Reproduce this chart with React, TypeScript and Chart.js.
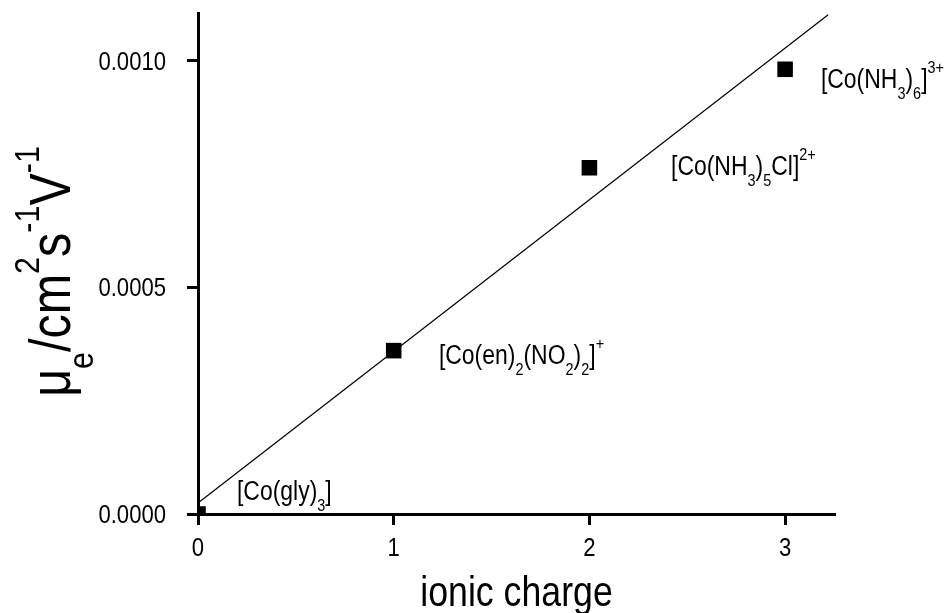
import React, { useEffect, useRef } from "react";
import { Chart, registerables } from "chart.js";

Chart.register(...registerables);

// ---- data ----
const charges = [0, 1, 2, 3];
const mobilities = [0.0, 0.00036, 0.000763, 0.00098];
const fitX = [0, 3.22];
const fitY = [0.0000242, 0.0011];
const xTickValues = [0, 1, 2, 3];
const yTickValues = [0, 0.0005, 0.001];
const yTickLabels = ["0.0000", "0.0005", "0.0010"];
const xTickLabels = ["0", "1", "2", "3"];

type Seg = [string, "n" | "sub" | "sup"];
const complexLabels: Seg[][] = [
  [["[Co(gly)", "n"], ["3", "sub"], ["]", "n"]],
  [["[Co(en)", "n"], ["2", "sub"], ["(NO", "n"], ["2", "sub"], [")", "n"], ["2", "sub"], ["]", "n"], ["+", "sup"]],
  [["[Co(NH", "n"], ["3", "sub"], [")", "n"], ["5", "sub"], ["Cl]", "n"], ["2+", "sup"]],
  [["[Co(NH", "n"], ["3", "sub"], [")", "n"], ["6", "sub"], ["]", "n"], ["3+", "sup"]],
];
const labelX = [0.199, 1.231, 2.417, 3.183];
const labelY = [0.0000308, 0.00033, 0.000747, 0.000938];

const xTitle = "ionic charge";
const yTitle: Seg[] = [
  ["μ", "n"], ["e", "sub"], ["/cm", "n"], ["2", "sup"], ["s", "n"], ["-1", "sup"], ["V", "n"], ["-1", "sup"],
];

const X_MIN = 0, X_MAX = 3.255;
const Y_MIN = 0, Y_MAX = 0.001104;

// ---- text helpers ----
const FAMILY = "'Liberation Sans', Arial, sans-serif";
const NARROW = 0.85;
const SMALL = 0.63;

function segWidth(ctx: CanvasRenderingContext2D, segs: Seg[], size: number) {
  let w = 0;
  for (const [t, k] of segs) {
    const s = k === "n" ? size : size * SMALL;
    ctx.font = `${s}px ${FAMILY}`;
    w += ctx.measureText(t).width * NARROW;
  }
  return w;
}

function drawRich(ctx: CanvasRenderingContext2D, segs: Seg[], x: number, y: number, size: number) {
  let cx = x;
  ctx.textBaseline = "alphabetic";
  ctx.textAlign = "left";
  for (const [t, k] of segs) {
    const s = k === "n" ? size : size * SMALL;
    const dy = k === "sub" ? 0.4 * size : k === "sup" ? -0.55 * size : 0;
    ctx.font = `${s}px ${FAMILY}`;
    const w = ctx.measureText(t).width * NARROW;
    ctx.save();
    ctx.translate(cx, y + dy);
    ctx.scale(NARROW, 1);
    ctx.fillText(t, 0, 0);
    ctx.restore();
    cx += w;
  }
}

function drawNarrow(ctx: CanvasRenderingContext2D, t: string, x: number, y: number, size: number, align: "left" | "right" | "center") {
  ctx.font = `${size}px ${FAMILY}`;
  const w = ctx.measureText(t).width * NARROW;
  let sx = x;
  if (align === "right") sx = x - w;
  else if (align === "center") sx = x - w / 2;
  ctx.save();
  ctx.textAlign = "left";
  ctx.textBaseline = "alphabetic";
  ctx.translate(sx, y);
  ctx.scale(NARROW, 1);
  ctx.fillText(t, 0, 0);
  ctx.restore();
}

const textPlugin = {
  id: "textPlugin",
  afterDraw(chart: any) {
    const ctx: CanvasRenderingContext2D = chart.ctx;
    const xs = chart.scales.x;
    const ys = chart.scales.y;
    const area = chart.chartArea;
    ctx.save();
    ctx.fillStyle = "#000";
    const tickSize = 26;
    // y tick labels
    yTickValues.forEach((v, i) => {
      const py = ys.getPixelForValue(v);
      drawNarrow(ctx, yTickLabels[i], area.left - 32, py + 0.358 * tickSize, tickSize, "right");
    });
    // x tick labels
    xTickValues.forEach((v, i) => {
      const px = xs.getPixelForValue(v);
      drawNarrow(ctx, xTickLabels[i], px, area.bottom + 42, tickSize, "center");
    });
    // x title
    drawNarrow(ctx, xTitle, (area.left + area.right) / 2, area.bottom + 92, 42, "center");
    // y title (rotated)
    const ySize = 57;
    const yw = segWidth(ctx, yTitle, ySize);
    ctx.save();
    ctx.translate(70, (area.top + area.bottom) / 2 + 8 + yw / 2);
    ctx.rotate(-Math.PI / 2);
    drawRich(ctx, yTitle, 0, 0, ySize);
    ctx.restore();
    // point annotations
    complexLabels.forEach((segs, i) => {
      const px = xs.getPixelForValue(labelX[i]);
      const py = ys.getPixelForValue(labelY[i]);
      drawRich(ctx, segs, px, py, 27);
    });
    ctx.restore();
  },
};

export default function App() {
  const ref = useRef<HTMLCanvasElement | null>(null);
  useEffect(() => {
    if (!ref.current) return;
    const chart = new Chart(ref.current, {
      type: "scatter",
      data: {
        datasets: [
          {
            type: "line",
            data: fitX.map((x, i) => ({ x, y: fitY[i] })),
            borderColor: "#000",
            borderWidth: 1.2,
            pointRadius: 0,
            fill: false,
            clip: false as any,
          },
          {
            type: "scatter",
            data: charges.map((x, i) => ({ x, y: mobilities[i] })),
            pointStyle: "rect",
            pointRadius: 11,
            backgroundColor: "#000",
            borderColor: "#000",
            borderWidth: 0,
            clip: 0 as any,
          },
        ],
      },
      options: {
        animation: false,
        responsive: false,
        events: [],
        layout: { padding: { left: 0, top: 13, right: 116, bottom: 0 } },
        plugins: { legend: { display: false }, tooltip: { enabled: false } },
        scales: {
          x: {
            type: "linear",
            min: X_MIN,
            max: X_MAX,
            afterBuildTicks: (s: any) => { s.ticks = xTickValues.map((value) => ({ value })); },
            afterFit: (s: any) => { s.height = 99; },
            ticks: { display: false },
            grid: { drawOnChartArea: false, drawTicks: true, tickLength: 11, tickWidth: 3, tickColor: "#000" },
            border: { display: true, color: "#000", width: 3 },
          },
          y: {
            type: "linear",
            min: Y_MIN,
            max: Y_MAX,
            afterBuildTicks: (s: any) => { s.ticks = yTickValues.map((value) => ({ value })); },
            afterFit: (s: any) => { s.width = 198; },
            ticks: { display: false },
            grid: { drawOnChartArea: false, drawTicks: true, tickLength: 11, tickWidth: 3, tickColor: "#000" },
            border: { display: true, color: "#000", width: 3 },
          },
        },
      },
      plugins: [textPlugin],
    });
    return () => chart.destroy();
  }, []);
  return (
    <div style={{ position: "absolute", left: 0, top: 0, width: 951, height: 613, background: "#fff" }}>
      <canvas ref={ref} width={951} height={613} style={{ display: "block" }} />
    </div>
  );
}
